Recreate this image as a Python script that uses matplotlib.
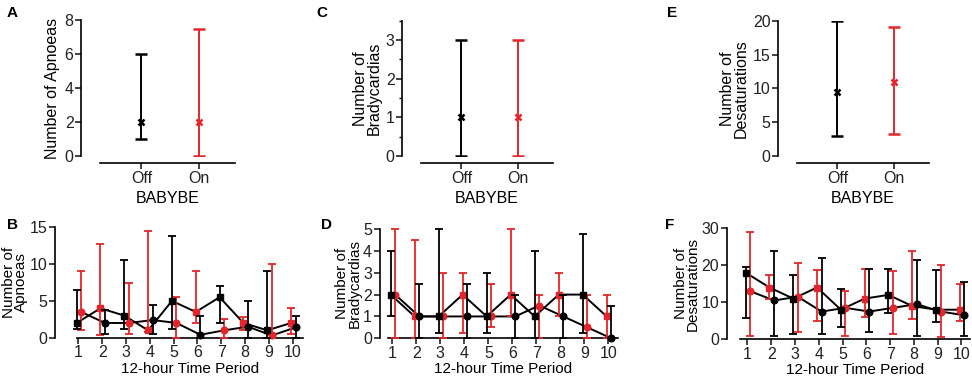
import matplotlib
matplotlib.use("Agg")
import matplotlib.pyplot as plt
from matplotlib.ticker import MultipleLocator

plt.rcParams['font.family'] = ['Liberation Sans', 'DejaVu Sans']
FS = 11
plt.rcParams['font.size'] = FS

RED = '#e3262b'
W, H = 972, 379

# ---- top panels: median and range, BABYBE off / on ----
groups = ['Off', 'On']
apn_med = [2, 2]
apn_lo = [1, 0]
apn_hi = [6, 7.5]
bra_med = [1, 1]
bra_lo = [0, 0]
bra_hi = [3, 3]
des_med = [9.5, 11]
des_lo = [3, 3.3]
des_hi = [20, 19]

# ---- bottom panels: per 12-hour period, two infants ----
periods = [1, 2, 3, 4, 5, 6, 7, 8, 9, 10]
sq_on = [0, 1, 0, 1, 0, 1, 0, 1, 0, 1]   # 1 = BABYBE on (red)
ci_on = [1, 0, 1, 0, 1, 0, 1, 0, 1, 0]

apn_sq = [2, 4, 3, 1, 5, 3.5, 5.5, 2, 1, 2]
apn_sq_lo = [1.2, 0.3, 1.2, 0.8, 1.2, 2, 2, 1, 0, 0.5]
apn_sq_hi = [6.5, 12.7, 10.5, 14.5, 13.8, 9, 7, 2.8, 9, 4]
apn_ci = [3.5, 2, 2, 2.4, 2, 0.4, 1, 1.5, 0.3, 1.4]
apn_ci_lo = [1, 0.5, 0.5, 0.5, 0, 0, 0, 0, 0, 0]
apn_ci_hi = [9, 3.8, 7.5, 4.5, 5.5, 3, 2.5, 5, 10, 3]

bra_sq = [2, 1, 1, 2, 1, 2, 1, 2, 2, 1]
bra_sq_lo = [1, 0, 0.25, 0.25, 0.25, 1, 0, 1, 0.25, 0]
bra_sq_hi = [4, 4.5, 5, 3, 3, 5, 4, 3, 4.75, 2]
bra_ci = [2, 1, 1, 1, 1, 1, 1.5, 1, 0.5, 0]
bra_ci_lo = [0, 0, 0, 0, 0.5, 0, 0, 0, 0, 0]
bra_ci_hi = [5, 2.5, 3, 2.5, 2.5, 2, 2, 2, 2, 1.5]

des_sq = [18, 14, 11, 14, 8, 11, 12, 9, 8, 8]
des_sq_lo = [5.8, 11, 1.5, 5, 3.3, 6, 7, 5.5, 4.8, 5]
des_sq_hi = [19.5, 17.3, 17.5, 18.8, 13.5, 19, 19, 24, 18.8, 15]
des_ci = [13, 10.5, 11.5, 7.5, 8.5, 7.5, 8.5, 9.5, 7.5, 6.5]
des_ci_lo = [1, 1, 2, 1.5, 1, 2, 1.5, 1, 0.5, 1]
des_ci_hi = [29, 24, 20.5, 22, 13, 19, 18.5, 21.5, 20, 15.5]


def rect(x0, y0, x1, y1):
    return [x0 / W, 1 - y1 / H, (x1 - x0) / W, (y1 - y0) / H]


def style(ax, left_out, bottom_out):
    ax.spines['top'].set_visible(False)
    ax.spines['right'].set_visible(False)
    for s in ('left', 'bottom'):
        ax.spines[s].set_linewidth(1.2)
    ax.spines['left'].set_position(('outward', left_out))
    ax.spines['bottom'].set_position(('outward', bottom_out))
    ax.tick_params(width=1.2, length=4, pad=1.5, colors='#222222', labelsize=FS + 0.5)
    ax.tick_params(which='minor', width=1.0, length=2.5)
    ax.set_facecolor('none')


def top_panel(r, med, lo, hi, ylim, step, ylabel, minor=None):
    ax = fig.add_axes(r)
    for i in range(len(groups)):
        c = 'black' if i == 0 else RED
        ax.errorbar([i], [med[i]], yerr=[[med[i] - lo[i]], [hi[i] - med[i]]],
                    fmt='x', color=c, ecolor=c, elinewidth=1.4, capsize=4.5,
                    capthick=1.4, markersize=5, markeredgewidth=1.8)
    ax.set_xlim(-0.72, 1.63)
    ax.set_ylim(*ylim)
    ax.set_xticks(range(len(groups)))
    ax.set_xticklabels(groups)
    ax.yaxis.set_major_locator(MultipleLocator(step))
    if minor:
        ax.yaxis.set_minor_locator(MultipleLocator(minor))
    ax.set_xlabel('BABYBE', labelpad=4, fontsize=FS + 0.5)
    ax.set_ylabel(ylabel, labelpad=3, linespacing=0.9, fontsize=FS + 0.5)
    style(ax, 13.5, 5)
    return ax


def bottom_panel(r, xlim, ylim, step, ylabel, sq, sq_lo, sq_hi, ci, ci_lo, ci_hi, left_out):
    ax = fig.add_axes(r)
    series = [(sq, sq_lo, sq_hi, sq_on, -0.07, 's'),
              (ci, ci_lo, ci_hi, ci_on, 0.12, 'o')]
    for y, lo, hi, on, off, mk in series:
        xs = [p + off for p in periods]
        ax.plot(xs, y, color='black', lw=1.4, zorder=2)
        for j in range(len(periods)):
            c = RED if on[j] else 'black'
            ax.errorbar([xs[j]], [y[j]], yerr=[[y[j] - lo[j]], [hi[j] - y[j]]],
                        fmt=mk, color=c, ecolor=c, elinewidth=1.3, capsize=3.2,
                        capthick=1.3, markersize=4.8, zorder=3 if on[j] else 4,
                        clip_on=False)
    ax.set_xlim(*xlim)
    ax.set_ylim(*ylim)
    ax.set_xticks(periods)
    ax.yaxis.set_major_locator(MultipleLocator(step))
    ax.set_xlabel('12-hour Time Period', labelpad=1)
    ax.set_ylabel(ylabel, labelpad=1, linespacing=0.85)
    style(ax, left_out, 0)
    return ax


fig = plt.figure(figsize=(W / 100, H / 100), dpi=100)

top_panel(rect(100, 20, 235, 156), apn_med, apn_lo, apn_hi, (0, 8), 2,
          'Number of Apnoeas')
top_panel(rect(421, 20.7, 553, 156), bra_med, bra_lo, bra_hi, (0, 3.5), 1,
          'Number of\nBradycardias', minor=0.5)
top_panel(rect(797, 20.7, 929, 156), des_med, des_lo, des_hi, (0, 20), 5,
          'Number of\nDesaturations')

bottom_panel(rect(77, 227.3, 303, 337.7), (0.945, 10.43), (0, 15), 5,
             'Number of\nApnoeas', apn_sq, apn_sq_lo, apn_sq_hi,
             apn_ci, apn_ci_lo, apn_ci_hi, 16)
bottom_panel(rect(388, 229, 618, 338.3), (0.82, 10.4), (0, 5), 1,
             'Number of\nBradycardias', bra_sq, bra_sq_lo, bra_sq_hi,
             bra_ci, bra_ci_lo, bra_ci_hi, 6)
bottom_panel(rect(740, 228.3, 970, 339.3), (0.69, 10.36), (0, 30), 10,
             'Number of\nDesaturations', des_sq, des_sq_lo, des_sq_hi,
             des_ci, des_ci_lo, des_ci_hi, 9.5)

for lab, x, y in [('A', 7, 6), ('C', 316, 6), ('E', 667, 6),
                  ('B', 7, 218), ('D', 321, 218), ('F', 665, 218)]:
    fig.text(x / W, 1 - y / H, lab, fontsize=FS, fontweight='bold',
             ha='left', va='top')

fig.savefig('out.png', dpi=100)
